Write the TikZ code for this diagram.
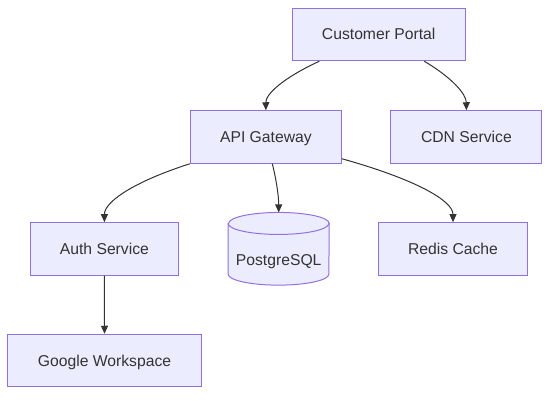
\documentclass[tikz,border=0pt]{standalone}
\usepackage{fontspec}
\setmainfont{Liberation Sans}
\usetikzlibrary{arrows.meta}
\definecolor{nodefill}{HTML}{ECECFF}
\definecolor{nodeline}{HTML}{9370DB}
\definecolor{txt}{HTML}{333333}
\begin{document}
\begin{tikzpicture}[x=1pt,y=-1pt,
  label text/.style={text=txt,font=\fontsize{15.7}{18}\selectfont,text height=11pt,text depth=0pt},
  box/.style={label text,draw=nodeline,fill=nodefill,line width=1pt,minimum height=52.5pt,
    inner sep=0pt},
  link/.style={draw=txt,line width=1pt,-{Triangle[length=8pt,width=7pt]}}]
\useasboundingbox (0,0) rectangle (557,401);
\node[box,minimum width=173pt] (cp) at (378.7,34.5) {Customer Portal};
\node[box,minimum width=151pt] (api) at (265.9,137) {API Gateway};
\node[box,minimum width=151pt] (cdn) at (466.4,137) {CDN Service};
\node[box,minimum width=148pt] (auth) at (104.4,248.9) {Auth Service};
\node[box,minimum width=149pt] (redis) at (453,248.9) {Redis Cache};
\node[box,minimum width=194pt] (google) at (104.5,360.5) {Google Workspace};
% cylinder
\node[minimum width=100.7pt,minimum height=72.3pt,inner sep=0pt] (pg) at (278.7,248.8) {};
\path[draw=nodeline,fill=nodefill,line width=1pt]
  ([yshift=-11pt]pg.north west) -- ([yshift=11pt]pg.south west)
  arc[start angle=180,end angle=360,x radius=50.35pt,y radius=11pt]
  -- ([yshift=-11pt]pg.north east)
  arc[start angle=0,end angle=180,x radius=50.35pt,y radius=11pt] -- cycle;
\draw[nodeline,line width=1pt] ([yshift=-11pt]pg.north west)
  arc[start angle=180,end angle=360,x radius=50.35pt,y radius=11pt];
\node[label text,inner sep=0pt] (pgt) at (278.7,259.5) {PostgreSQL};
% connectors
\draw[link] ([xshift=-59.4pt]cp.south) .. controls (283.6,77.7) and (265.7,94) .. (api.north);
\draw[link] ([xshift=45.6pt]cp.south) .. controls (452,77.7) and (466.2,94) .. (cdn.north);
\draw[link] (api.south west) .. controls (133,182) and (104.4,202) .. (auth.north);
\draw[link] ([xshift=6.4pt]api.south) .. controls (276.3,179.5) and (278.7,196) .. (pg.north);
\draw[link] ([yshift=5pt]api.south east) .. controls (415.7,179.4) and (453,200.7) .. (redis.north);
\draw[link] (auth.south) -- (google.north);
\end{tikzpicture}
\end{document}
